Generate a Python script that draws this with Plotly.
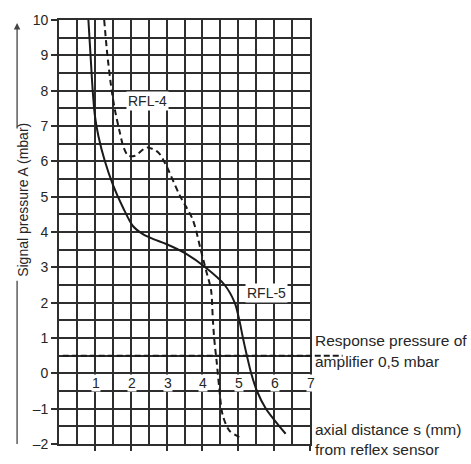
import plotly.graph_objects as go

# RFL-5 (solid curve)
rfl5_x = [0.82, 0.88, 0.94, 1.00, 1.10, 1.28, 1.51, 1.79, 2.06, 2.34, 2.63, 2.99, 3.55, 4.08, 4.62, 4.90, 5.03, 5.13, 5.24, 5.36, 5.52, 5.77, 6.03, 6.32]
rfl5_y = [10, 9, 8, 7.3, 6.71, 6.0, 5.32, 4.68, 4.17, 3.94, 3.8, 3.66, 3.38, 3.0, 2.5, 2.0, 1.5, 1.0, 0.5, 0.0, -0.5, -1.0, -1.35, -1.71]

# RFL-4 (dashed curve)
rfl4_x = [1.26, 1.35, 1.47, 1.57, 1.70, 1.80, 1.93, 2.12, 2.45, 2.77, 2.99, 3.36, 3.73, 3.96, 4.10, 4.24, 4.29, 4.33, 4.40, 4.47, 4.56, 4.75, 5.12]
rfl4_y = [10, 9, 8, 7.4, 6.8, 6.4, 6.16, 6.16, 6.39, 6.25, 5.88, 5.05, 4.35, 3.47, 2.92, 2.36, 1.53, 0.97, 0.3, -0.42, -1.16, -1.62, -1.85]

x_tick_vals = [1, 2, 3, 4, 5, 6, 7]
x_tick_text = ["1", "2", "3", "4", "5", "6", "7"]
y_tick_vals = [-2, -1, 0, 1, 2, 3, 4, 5, 6, 7, 8, 9, 10]
y_tick_text = ["\u20132", "\u20131", "0", "1", "2", "3", "4", "5", "6", "7", "8", "9", "10"]

response_pressure = 0.5

FONT = "Liberation Sans, Arial, sans-serif"
INK = "#262626"
GRID = "#2e2e2e"

fig = go.Figure()

fig.add_trace(go.Scatter(
    x=rfl5_x, y=rfl5_y, mode="lines",
    line=dict(color="#1a1a1a", width=2, shape="spline", smoothing=0.8),
    showlegend=False, hoverinfo="skip"))

fig.add_trace(go.Scatter(
    x=rfl4_x, y=rfl4_y, mode="lines",
    line=dict(color="#1a1a1a", width=2, shape="spline", smoothing=0.8, dash="6px,4px"),
    showlegend=False, hoverinfo="skip"))

fig.update_layout(
    width=471, height=464,
    margin=dict(l=59, r=161, t=15, b=17),
    paper_bgcolor="white", plot_bgcolor="white",
    font=dict(family=FONT, size=14, color=INK),
    xaxis=dict(
        range=[0, 7], tickvals=x_tick_vals, showticklabels=False,
        ticks="outside", ticklen=5, tickwidth=1.5, tickcolor=GRID,
        showgrid=True, gridcolor=GRID, gridwidth=1.6,
        minor=dict(dtick=0.5, showgrid=True, gridcolor=GRID, gridwidth=1.6),
        showline=True, linecolor=GRID, linewidth=1.6, mirror=True,
        zeroline=False, fixedrange=True),
    yaxis=dict(
        range=[-2, 10], tickvals=y_tick_vals, ticktext=y_tick_text,
        ticks="outside", ticklen=6, tickwidth=1.5, tickcolor=GRID,
        tickfont=dict(family=FONT, size=14, color=INK),
        showgrid=True, gridcolor=GRID, gridwidth=1.6,
        minor=dict(dtick=0.5, showgrid=True, gridcolor=GRID, gridwidth=1.6),
        showline=True, linecolor=GRID, linewidth=1.6, mirror=True,
        zeroline=True, zerolinecolor=GRID, zerolinewidth=1.6, fixedrange=True),
)

# x tick labels drawn just below the zero line
for xv, xt in zip(x_tick_vals, x_tick_text):
    fig.add_annotation(x=xv, y=-0.28, text=xt, showarrow=False, xshift=1,
                       font=dict(family=FONT, size=14, color=INK),
                       bgcolor="white", borderpad=0)

# response pressure dashed line, extending beyond the plot
fig.add_shape(type="line", xref="paper", yref="y",
              x0=0.015, x1=1.13, y0=response_pressure, y1=response_pressure,
              line=dict(color="#1a1a1a", width=2, dash="6px,3px"))

# curve labels
fig.add_annotation(x=2.48, y=7.72, text="RFL-4", showarrow=False,
                   font=dict(family=FONT, size=14, color=INK), bgcolor="white")
fig.add_annotation(x=5.79, y=2.27, text="RFL-5", showarrow=False,
                   font=dict(family=FONT, size=14, color=INK), bgcolor="white")

# right-side notes
notes = [("Response pressure of", 0.243), ("amplifier 0,5 mbar", 0.194),
         ("axial distance s (mm)", 0.035), ("from reflex sensor", -0.014)]
for txt, yp in notes:
    fig.add_annotation(xref="paper", yref="paper", x=1.012, y=yp, text=txt,
                       showarrow=False, xanchor="left", yanchor="middle",
                       font=dict(family=FONT, size=15.5, color=INK))

# y axis title with arrow lines
fig.add_annotation(xref="paper", yref="paper", x=-0.183, y=0.576,
                   text="Signal pressure A (mbar)", textangle=-90, showarrow=False,
                   font=dict(family=FONT, size=14, color=INK))
fig.add_annotation(xref="paper", yref="paper", x=-0.167, y=0.993,
                   ax=0, ay=107, axref="pixel", ayref="pixel",
                   text="", showarrow=True, arrowhead=2, arrowsize=1,
                   arrowwidth=1.3, arrowcolor="#444")
fig.add_shape(type="line", xref="paper", yref="paper",
              x0=-0.167, x1=-0.167, y0=0.0, y1=0.385,
              line=dict(color="#444", width=1.3))

fig.write_html("out.html", config={"displayModeBar": False},
               post_script="document.body.style.margin='0';document.body.style.padding='0';")
